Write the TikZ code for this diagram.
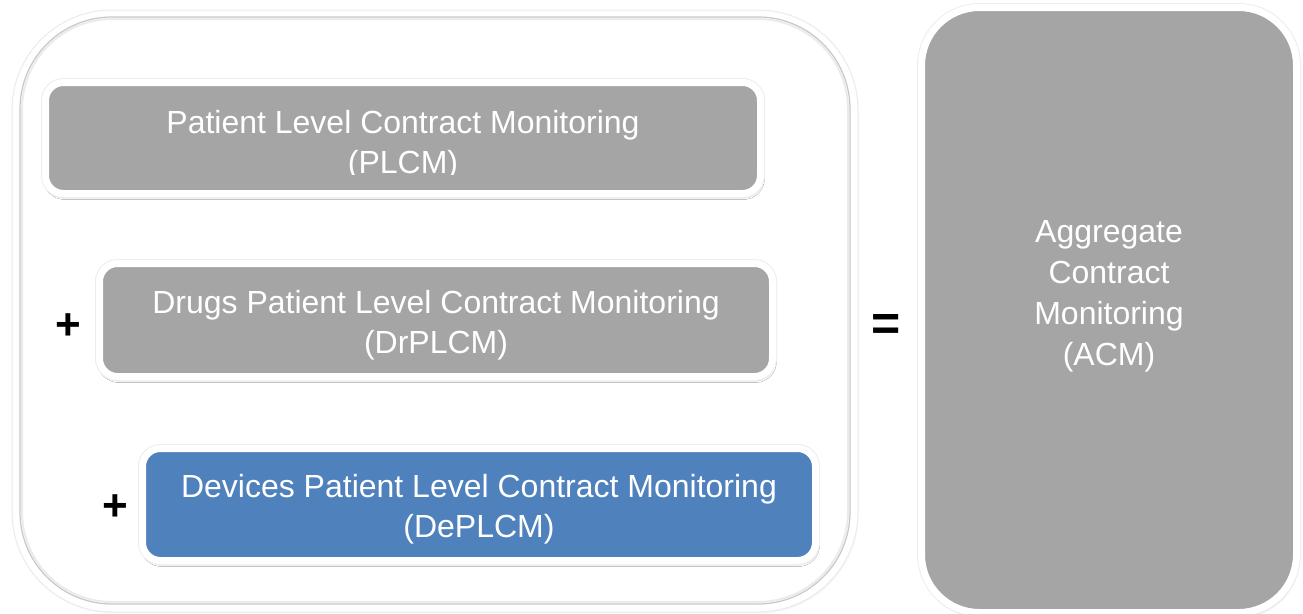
\documentclass[tikz,border=0pt]{standalone}
\usepackage{fontspec}
\setmainfont{Liberation Sans}
\usetikzlibrary{shadows.blur}
\definecolor{boxgray}{HTML}{A5A5A5}
\definecolor{boxblue}{HTML}{4F81BD}
\begin{document}
\begin{tikzpicture}[x=1pt,y=-1pt,
  box/.style={rounded corners=18pt, draw=white, line width=7pt, inner sep=0pt,
    blur shadow={shadow xshift=1pt, shadow yshift=-3pt, shadow blur radius=3pt, shadow opacity=40},
    preaction={draw=black!7, line width=9pt}},
  boxlabel/.style={text=white, font=\fontsize{32}{40}\selectfont, align=center, anchor=north, inner sep=0pt},
  op/.style={text=black, inner sep=0pt}]
\useasboundingbox (0,0) rectangle (1303,613);
% group container
\node[draw=white, fill=white, line width=8pt, rounded corners=96pt, minimum width=838pt, minimum height=594pt, inner sep=0pt,
  blur shadow={shadow xshift=1pt, shadow yshift=-2pt, shadow blur radius=4pt, shadow opacity=25}] (group) at (435,311) {};
\draw[black!8, line width=1pt, rounded corners=100pt] (12,10) rectangle (858,612);
\draw[black!22, line width=1.2pt, rounded corners=92pt] (20,17) rectangle (850,604);
\draw[black!8, line width=2pt, rounded corners=90pt] (22,19) rectangle (848,602);
% result box
\node[box, fill=boxgray, rounded corners=58pt, minimum width=375pt, minimum height=605pt] (acm) at (1109,310) {};
% component boxes
\node[box, fill=boxgray, minimum width=715pt, minimum height=111pt] (plcm) at (403,138) {};
\node[box, fill=boxgray, minimum width=673pt, minimum height=113pt] (drplcm) at (436,320) {};
\node[box, fill=boxblue, minimum width=673pt, minimum height=112pt] (deplcm) at (479,504.5) {};
% labels
\begin{scope}
\clip (49,86) rectangle (757,174);
\node[boxlabel] (plcmtext) at (403,110) {Patient Level Contract Monitoring\\(PLCM)};
\end{scope}
\node[boxlabel] (drplcmtext) at (436,290) {Drugs Patient Level Contract Monitoring\\(DrPLCM)};
\node[boxlabel] (deplcmtext) at (479,474) {Devices Patient Level Contract Monitoring\\(DePLCM)};
\node[boxlabel, font=\fontsize{32}{41}\selectfont] (acmtext) at (1109,220) {Aggregate\\Contract\\Monitoring\\(ACM)};
% operators
\node[op, font=\bfseries\fontsize{44}{48}\selectfont] (plus1) at (68,327) {+};
\node[op, font=\bfseries\fontsize{44}{48}\selectfont] (plus2) at (115.5,508) {+};
\node[op, font=\bfseries\fontsize{50}{54}\selectfont] (equals) at (886.5,327) {=};
\end{tikzpicture}
\end{document}
